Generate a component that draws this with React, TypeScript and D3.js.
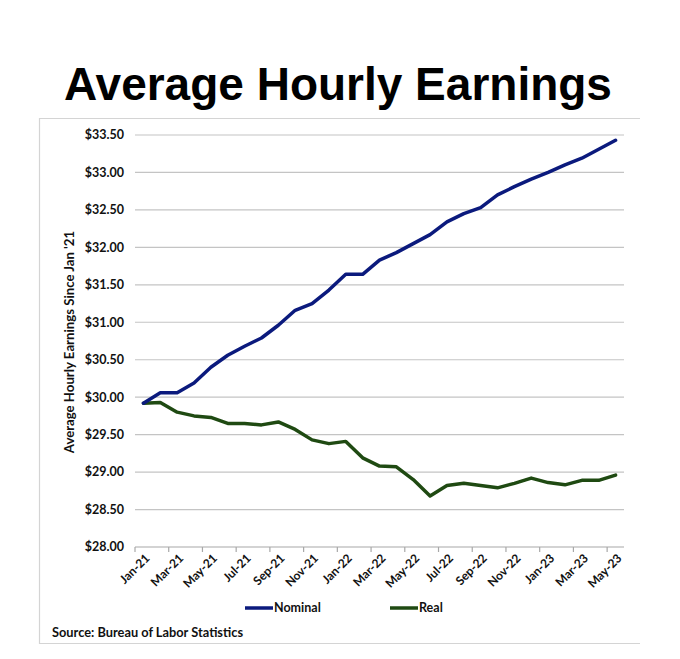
import React from "react";
import * as d3 from "d3";

const months: string[] = [
  "Jan-21","Feb-21","Mar-21","Apr-21","May-21","Jun-21","Jul-21","Aug-21","Sep-21","Oct-21","Nov-21","Dec-21",
  "Jan-22","Feb-22","Mar-22","Apr-22","May-22","Jun-22","Jul-22","Aug-22","Sep-22","Oct-22","Nov-22","Dec-22",
  "Jan-23","Feb-23","Mar-23","Apr-23","May-23",
];

const nominal: number[] = [
  29.92, 30.06, 30.06, 30.19, 30.40, 30.56, 30.68, 30.79, 30.96, 31.16, 31.25, 31.43,
  31.64, 31.64, 31.83, 31.93, 32.05, 32.17, 32.34, 32.45, 32.53, 32.70, 32.81, 32.91,
  33.00, 33.10, 33.19, 33.31, 33.43,
];

const real: number[] = [
  29.92, 29.93, 29.80, 29.75, 29.73, 29.65, 29.65, 29.63, 29.67, 29.57, 29.43, 29.38,
  29.41, 29.19, 29.08, 29.07, 28.90, 28.68, 28.82, 28.85, 28.82, 28.79, 28.85, 28.92,
  28.86, 28.83, 28.89, 28.89, 28.96,
];

const yTicks: number[] = [28, 28.5, 29, 29.5, 30, 30.5, 31, 31.5, 32, 32.5, 33, 33.5];

const seriesNames: string[] = ["Nominal", "Real"];
const seriesColors: string[] = ["#0b1a7d", "#1f4a12"];

const W = 680;
const H = 659;
const left = 135;
const right = 624;
const top = 135;
const bottom = 547;
const font = "Lato, 'Open Sans', sans-serif";
const ink = "#111";

export default function App() {
  const x = d3.scalePoint<string>().domain(months).range([left, right]).padding(0.5);
  const step = x.step();
  const y = d3.scaleLinear().domain([28, 33.5]).range([bottom, top]);
  const line = d3
    .line<number>()
    .x((_, i) => x(months[i]) as number)
    .y((d) => y(d))
    .curve(d3.curveLinear);

  const tickIdx = months.map((_, i) => i).filter((i) => i % 2 === 0);
  const fmt = (v: number) => "$" + v.toFixed(2);

  const legendItems = [
    { name: seriesNames[0], color: seriesColors[0], x0: 245 },
    { name: seriesNames[1], color: seriesColors[1], x0: 390 },
  ];

  return (
    <svg
      width={W}
      height={H}
      style={{ position: "absolute", left: 0, top: 0, background: "#fff" }}
    >
      <text
        x={338}
        y={100}
        textAnchor="middle"
        fontFamily="'Liberation Sans', Arial, sans-serif"
        fontWeight="bold"
        fontSize={46}
        fill="#000"
      >
        Average Hourly Earnings
      </text>

      {/* frame */}
      <path d="M640,118.5 H39.5 V643.5 H640" fill="none" stroke="#d4d4d4" strokeWidth={1.2} />

      {/* gridlines */}
      {yTicks.slice(1).map((t) => (
        <line key={t} x1={left} x2={right} y1={y(t)} y2={y(t)} stroke="#c4c4c4" strokeWidth={1.2} />
      ))}
      {/* x axis */}
      <line x1={left} x2={right} y1={y(28)} y2={y(28)} stroke="#a8a8a8" strokeWidth={1.2} />
      {tickIdx.map((i) => {
        const tx = (x(months[i]) as number) - step / 2;
        return <line key={"t" + i} x1={tx} x2={tx} y1={y(28)} y2={y(28) + 5} stroke="#a8a8a8" strokeWidth={1.2} />;
      })}

      {/* y labels */}
      {yTicks.map((t) => (
        <text
          key={"y" + t}
          x={124}
          y={y(t)}
          dy="0.35em"
          textAnchor="end"
          fontFamily={font}
          fontWeight="bold"
          fontSize={12.5}
          fill={ink}
        >
          {fmt(t)}
        </text>
      ))}

      {/* y title */}
      <text
        transform={`translate(74,${(top + bottom) / 2 + 1}) rotate(-90)`}
        textAnchor="middle"
        fontFamily={font}
        fontWeight="bold"
        fontSize={13.2}
        fill={ink}
      >
        Average Hourly Earnings Since Jan '21
      </text>

      {/* x labels */}
      {tickIdx.map((i) => {
        const cx = x(months[i]) as number;
        return (
          <text
            key={"x" + i}
            transform={`translate(${cx + 4},${bottom + 9}) rotate(-45)`}
            textAnchor="end"
            dy="0.35em"
            fontFamily={font}
            fontWeight="bold"
            fontSize={12}
            fill={ink}
          >
            {months[i]}
          </text>
        );
      })}

      {/* lines */}
      <path d={line(real) || ""} fill="none" stroke={seriesColors[1]} strokeWidth={3.5} strokeLinejoin="round" strokeLinecap="round" />
      <path d={line(nominal) || ""} fill="none" stroke={seriesColors[0]} strokeWidth={3.5} strokeLinejoin="round" strokeLinecap="round" />

      {/* legend */}
      {legendItems.map((it) => (
        <g key={it.name}>
          <line x1={it.x0} x2={it.x0 + 28} y1={608} y2={608} stroke={it.color} strokeWidth={3.5} />
          <text x={it.x0 + 29} y={608} dy="0.35em" fontFamily={font} fontWeight="bold" fontSize={12.5} fill={ink}>
            {it.name}
          </text>
        </g>
      ))}

      <text x={52} y={633} dy="0.35em" fontFamily={font} fontWeight="bold" fontSize={12.8} fill={ink}>
        Source: Bureau of Labor Statistics
      </text>
    </svg>
  );
}
